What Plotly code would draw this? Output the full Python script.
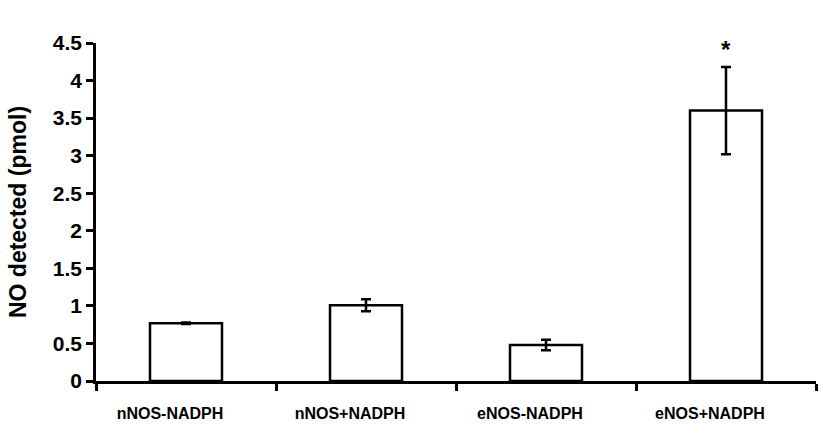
import plotly.graph_objects as go

categories = ["nNOS-NADPH", "nNOS+NADPH", "eNOS-NADPH", "eNOS+NADPH"]
values = [0.77, 1.01, 0.48, 3.60]
errors = [0.01, 0.08, 0.07, 0.58]
marks = ["", "", "", "*"]
y_ticks = [0, 0.5, 1, 1.5, 2, 2.5, 3, 3.5, 4, 4.5]
y_tick_text = ["0", "0.5", "1", "1.5", "2", "2.5", "3", "3.5", "4", "4.5"]

FONT = "Liberation Sans, Arial"

fig = go.Figure()
fig.add_trace(go.Bar(
    x=categories, y=values, width=0.4,
    marker=dict(color="white", line=dict(color="black", width=2.5)),
    error_y=dict(type="data", array=errors, visible=True,
                 color="black", thickness=2.5, width=5),
))
for c, v, e, m in zip(categories, values, errors, marks):
    if m:
        fig.add_annotation(x=c, y=v + e, text=m, showarrow=False,
                           yanchor="bottom", yshift=2,
                           font=dict(family=FONT, size=24, color="black", weight="bold"))

fig.update_layout(
    width=823, height=440,
    margin=dict(l=96, r=7, t=43, b=59),
    plot_bgcolor="white", paper_bgcolor="white",
    showlegend=False,
    font=dict(family=FONT, color="black"),
)
fig.update_xaxes(
    range=[-0.5, 3.5], showline=True, linecolor="black", linewidth=2.5,
    ticks="outside", tickson="boundaries", ticklen=7, tickwidth=2.5, tickcolor="black",
    tickfont=dict(size=16, family=FONT, weight="bold"),
    ticklabelstandoff=16, ticklabelshift=-16,
    showgrid=False, zeroline=False,
)
fig.update_yaxes(
    range=[0, 4.5], tickvals=y_ticks, ticktext=y_tick_text,
    showline=True, linecolor="black", linewidth=2.5,
    ticks="outside", ticklen=7, tickwidth=2.5, tickcolor="black",
    tickfont=dict(size=21, family=FONT, weight="bold"),
    title=dict(text="NO detected (pmol)", standoff=20,
               font=dict(size=23, family=FONT, weight="bold")),
    showgrid=False, zeroline=False,
)
fig.write_html("out.html")
